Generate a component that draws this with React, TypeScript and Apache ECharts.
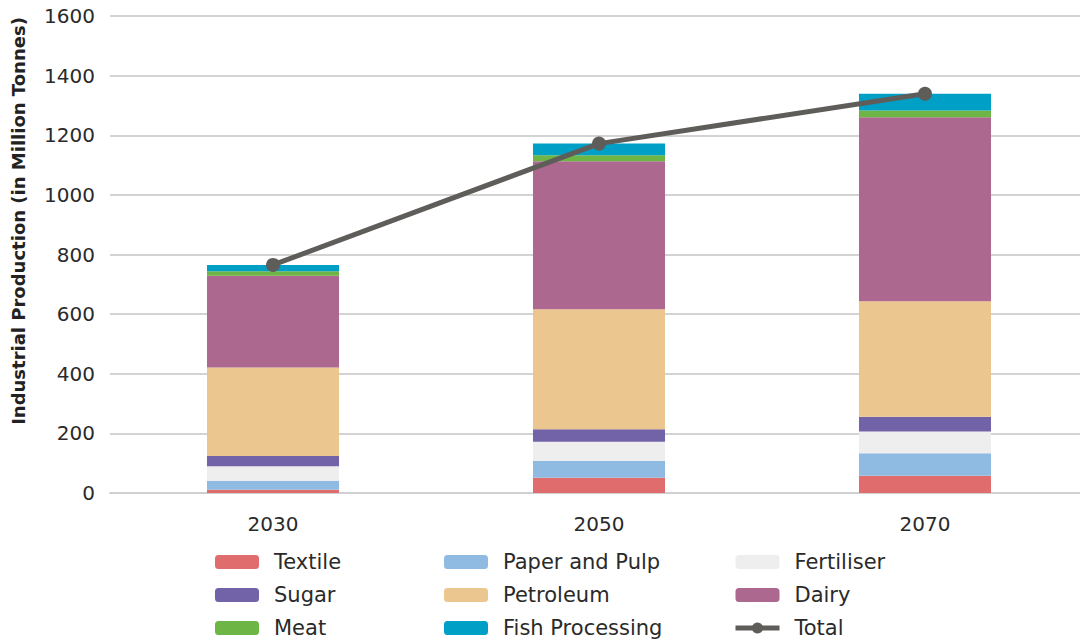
import React, { useEffect, useRef } from "react";
import * as echarts from "echarts";

const years = ["2030", "2050", "2070"];
const textile = [11, 51, 58];
const paperAndPulp = [30, 56, 75];
const fertiliser = [49, 65, 73];
const sugar = [34, 42, 50];
const petroleum = [297, 402, 387];
const dairy = [308, 497, 617];
const meat = [15, 20, 23];
const fishProcessing = [21, 39, 56];
const total = [765, 1172, 1339];
const yTicks = [0, 200, 400, 600, 800, 1000, 1200, 1400, 1600];

const FONT = "'DejaVu Sans', 'Noto Sans', sans-serif";

const barSeries = [
  { name: "Textile", data: textile, color: "#e06c6e" },
  { name: "Paper and Pulp", data: paperAndPulp, color: "#8fbbe3" },
  { name: "Fertiliser", data: fertiliser, color: "#eeeeee" },
  { name: "Sugar", data: sugar, color: "#7262a8" },
  { name: "Petroleum", data: petroleum, color: "#ebc68f" },
  { name: "Dairy", data: dairy, color: "#ac688e" },
  { name: "Meat", data: meat, color: "#6db544" },
  { name: "Fish Processing", data: fishProcessing, color: "#00a0c6" },
];

const legendColumns = [
  ["Textile", "Sugar", "Meat"],
  ["Paper and Pulp", "Petroleum", "Fish Processing"],
  ["Fertiliser", "Dairy", "Total"],
];
const legendLeft = [215, 444, 733];

export default function App() {
  const ref = useRef<HTMLDivElement>(null);

  useEffect(() => {
    if (!ref.current) return;
    const chart = echarts.init(ref.current, undefined, { renderer: "svg" });

    const legends = legendColumns.map((names, i) => ({
      orient: "vertical" as const,
      left: legendLeft[i],
      top: 549,
      height: 110,
      padding: 0,
      itemWidth: 44,
      itemHeight: 14,
      itemGap: 7,
      data: names,
      lineStyle: { width: 5 },
      textStyle: {
        fontFamily: FONT,
        fontSize: 21,
        lineHeight: 26,
        color: "#2a2a2a",
        padding: [0, 0, 0, 10],
      },
      selectedMode: false,
    }));

    chart.setOption({
      animation: false,
      backgroundColor: "#ffffff",
      textStyle: { fontFamily: FONT },
      grid: { left: 110, right: 0, top: 16, bottom: 147, containLabel: false },
      legend: legends,
      xAxis: {
        type: "category",
        data: years,
        axisLine: { lineStyle: { color: "#d0d0d0", width: 2 } },
        axisTick: { show: false },
        axisLabel: { fontFamily: FONT, fontSize: 20, color: "#2a2a2a", margin: 21 },
      },
      yAxis: {
        type: "value",
        min: yTicks[0],
        max: yTicks[yTicks.length - 1],
        interval: yTicks[1] - yTicks[0],
        axisLine: { show: false },
        axisTick: { show: false },
        splitLine: { lineStyle: { color: "#d3d3d3", width: 2 } },
        axisLabel: {
          fontFamily: FONT,
          fontSize: 20,
          color: "#2a2a2a",
          margin: 15,
          formatter: (v: number) => String(v),
        },
      },
      graphic: [
        {
          type: "text",
          x: 18,
          y: 221,
          rotation: Math.PI / 2,
          style: {
            text: "Industrial Production (in Million Tonnes)",
            font: `bold 18px ${FONT}`,
            fill: "#222222",
            align: "center",
            verticalAlign: "middle",
          },
        },
      ],
      series: [
        ...barSeries.map((s) => ({
          name: s.name,
          type: "bar",
          stack: "production",
          data: s.data,
          barWidth: "40.5%",
          itemStyle: { color: s.color },
        })),
        {
          name: "Total",
          type: "line",
          data: total,
          smooth: false,
          symbol: "circle",
          symbolSize: 14,
          lineStyle: { color: "#5f5d5a", width: 5 },
          itemStyle: { color: "#5f5d5a" },
          z: 5,
        },
      ],
    });

    return () => chart.dispose();
  }, []);

  return (
    <div
      ref={ref}
      style={{ position: "fixed", left: 0, top: 0, width: 1088, height: 640 }}
    />
  );
}
